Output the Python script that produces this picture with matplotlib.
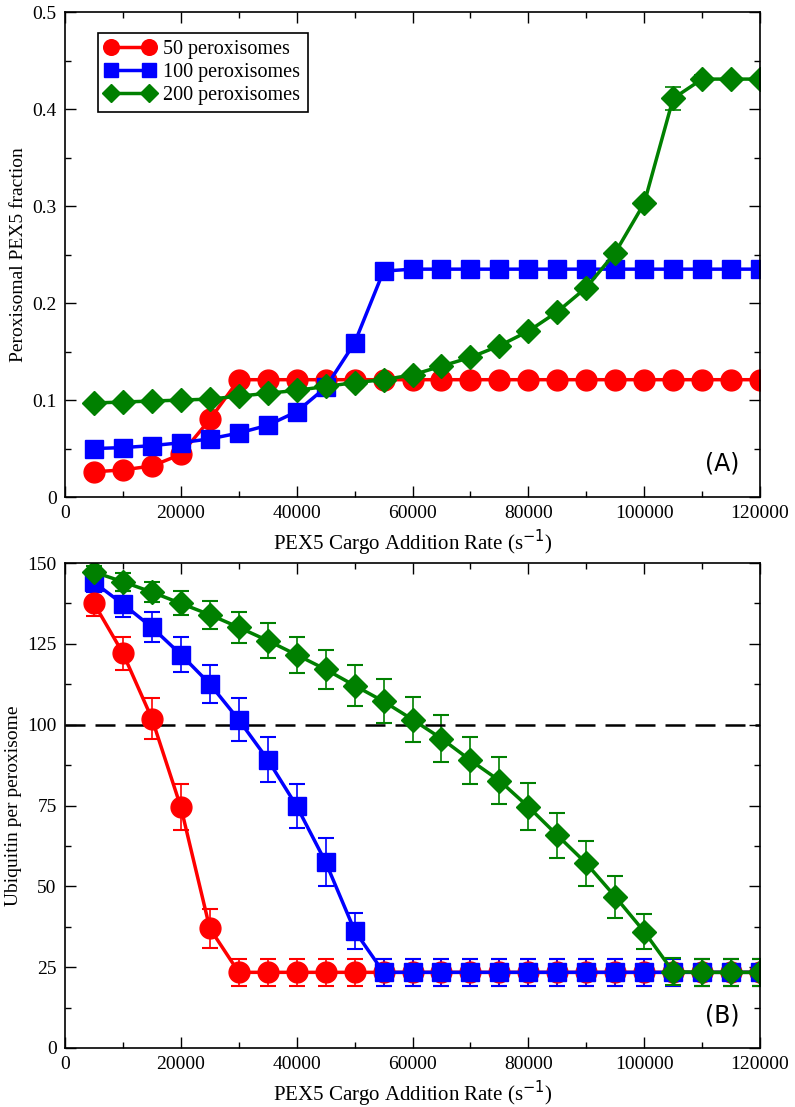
import numpy as np
import matplotlib
matplotlib.use("Agg")
import matplotlib.pyplot as plt
from matplotlib.ticker import MultipleLocator

# cargo addition rate (s^-1)
rate = np.arange(5000, 120001, 5000)

# panel A: peroxisomal PEX5 fraction
frac_50 = [0.026, 0.028, 0.032, 0.044, 0.080, 0.121, 0.121, 0.121, 0.121, 0.121,
           0.121, 0.121, 0.121, 0.121, 0.121, 0.121, 0.121, 0.121, 0.121, 0.121,
           0.121, 0.121, 0.121, 0.121]
frac_100 = [0.050, 0.051, 0.053, 0.056, 0.060, 0.066, 0.074, 0.088, 0.113, 0.159,
            0.233, 0.235, 0.235, 0.235, 0.235, 0.235, 0.235, 0.235, 0.235, 0.235,
            0.235, 0.235, 0.235, 0.235]
frac_200 = [0.097, 0.098, 0.099, 0.100, 0.101, 0.104, 0.107, 0.110, 0.114, 0.118,
            0.121, 0.126, 0.135, 0.144, 0.156, 0.171, 0.191, 0.216, 0.252, 0.303,
            0.411, 0.431, 0.431, 0.431]
frac_200_err = [0, 0, 0, 0, 0, 0, 0, 0, 0, 0, 0, 0, 0, 0, 0, 0, 0, 0, 0.002, 0.003,
                0.012, 0.004, 0, 0]

# panel B: ubiquitin per peroxisome
ub_50 = [137.5, 122.1, 101.9, 74.5, 37.0] + [23.4] * 19
ub_50_err = [4.0, 5.1, 6.3, 7.0, 6.0] + [4.2] * 19
ub_100 = [144.0, 137.3, 130.1, 121.7, 112.6, 101.5, 89.2, 74.8, 57.5, 36.3] + [23.4] * 14
ub_100_err = [3.0, 3.9, 4.6, 5.3, 6.0, 6.6, 6.9, 6.8, 7.3, 5.6] + [4.2] * 14
ub_200 = [147.2, 144.2, 141.0, 137.5, 134.0, 130.1, 126.0, 121.6, 117.1, 112.1,
          107.2, 101.6, 95.7, 89.0, 82.7, 74.6, 65.8, 57.1, 46.8, 36.0,
          23.6, 23.4, 23.4, 23.4]
ub_200_err = [2.0, 2.7, 3.0, 3.7, 4.4, 4.7, 5.3, 5.6, 6.1, 6.4,
              6.8, 7.0, 7.2, 7.2, 7.2, 7.3, 7.0, 7.0, 6.5, 5.5,
              4.2, 4.2, 4.2, 4.2]

labels = ["50 peroxisomes", "100 peroxisomes", "200 peroxisomes"]
colors = ["#ff0000", "#0000ff", "#008000"]
markers = ["o", "s", "D"]
msizes = [15, 12.5, 12]

serif = "Liberation Serif"

fig = plt.figure(figsize=(7.95, 11.07), dpi=100)
axA = fig.add_axes([0.0818, 0.551, 0.8742, 0.438])
axB = fig.add_axes([0.0818, 0.0533, 0.8742, 0.4381])


def style(ax):
    ax.set_xlim(0, 120000)
    ax.xaxis.set_major_locator(MultipleLocator(20000))
    ax.xaxis.set_minor_locator(MultipleLocator(10000))
    ax.tick_params(which="both", direction="in", top=True, right=True)
    ax.tick_params(which="major", length=8, width=1.0, labelsize=14, pad=6)
    ax.tick_params(which="minor", length=4, width=1.0)
    for lab in ax.get_xticklabels() + ax.get_yticklabels():
        lab.set_fontfamily(serif)
    ax.set_xlabel("PEX5 Cargo Addition Rate (s$^{-1}$)", fontsize=15,
                  fontfamily=serif)
    for sp in ax.spines.values():
        sp.set_linewidth(1.2)


# panel A
series_a = [(frac_50, None), (frac_100, None), (frac_200, frac_200_err)]
handles = []
for (vals, err), lab, c, m, ms in zip(series_a, labels, colors, markers, msizes):
    axA.errorbar(rate, vals, yerr=err, color=c, marker=m, markersize=ms,
                 linewidth=2.5, elinewidth=1.2, capsize=6, capthick=1.2)
    h, = axA.plot([], [], color=c, marker=m, markersize=ms * 0.75,
                  linewidth=2.5, label=lab)
    handles.append(h)
axA.set_ylim(0, 0.5)
axA.yaxis.set_minor_locator(MultipleLocator(0.05))
axA.set_yticks([0, 0.1, 0.2, 0.3, 0.4, 0.5], ["0", "0.1", "0.2", "0.3", "0.4", "0.5"])
style(axA)
axA.set_ylabel("Peroxisomal PEX5 fraction", fontsize=14, fontfamily=serif)
axA.text(0.97, 0.07, "(A)", transform=axA.transAxes, fontsize=17,
         ha="right", va="center")
leg = axA.legend(handles=handles, loc="upper left",
                 bbox_to_anchor=(0.0475, 0.957), borderaxespad=0, numpoints=2,
                 prop={"family": serif, "size": 14.5}, frameon=True,
                 fancybox=False, edgecolor="black", handlelength=2.5,
                 borderpad=0.35, labelspacing=0.2, handletextpad=0.4,
                 framealpha=1)
leg.get_frame().set_linewidth(1.2)

# panel B
series_b = [(ub_50, ub_50_err), (ub_100, ub_100_err), (ub_200, ub_200_err)]
for (vals, err), c, m, ms in zip(series_b, colors, markers, msizes):
    axB.errorbar(rate, vals, yerr=err, color=c, marker=m, markersize=ms,
                 linewidth=2.5, elinewidth=1.2, capsize=6, capthick=1.5)
axB.axhline(100, color="black", linestyle=(0, (8, 4)), linewidth=1.8)
axB.set_ylim(0, 150)
axB.yaxis.set_major_locator(MultipleLocator(25))
axB.yaxis.set_minor_locator(MultipleLocator(12.5))
style(axB)
axB.set_ylabel("Ubiquitin per peroxisome", fontsize=14, fontfamily=serif)
axB.text(0.97, 0.068, "(B)", transform=axB.transAxes, fontsize=17,
         ha="right", va="center")

fig.savefig("out.png", dpi=100)
